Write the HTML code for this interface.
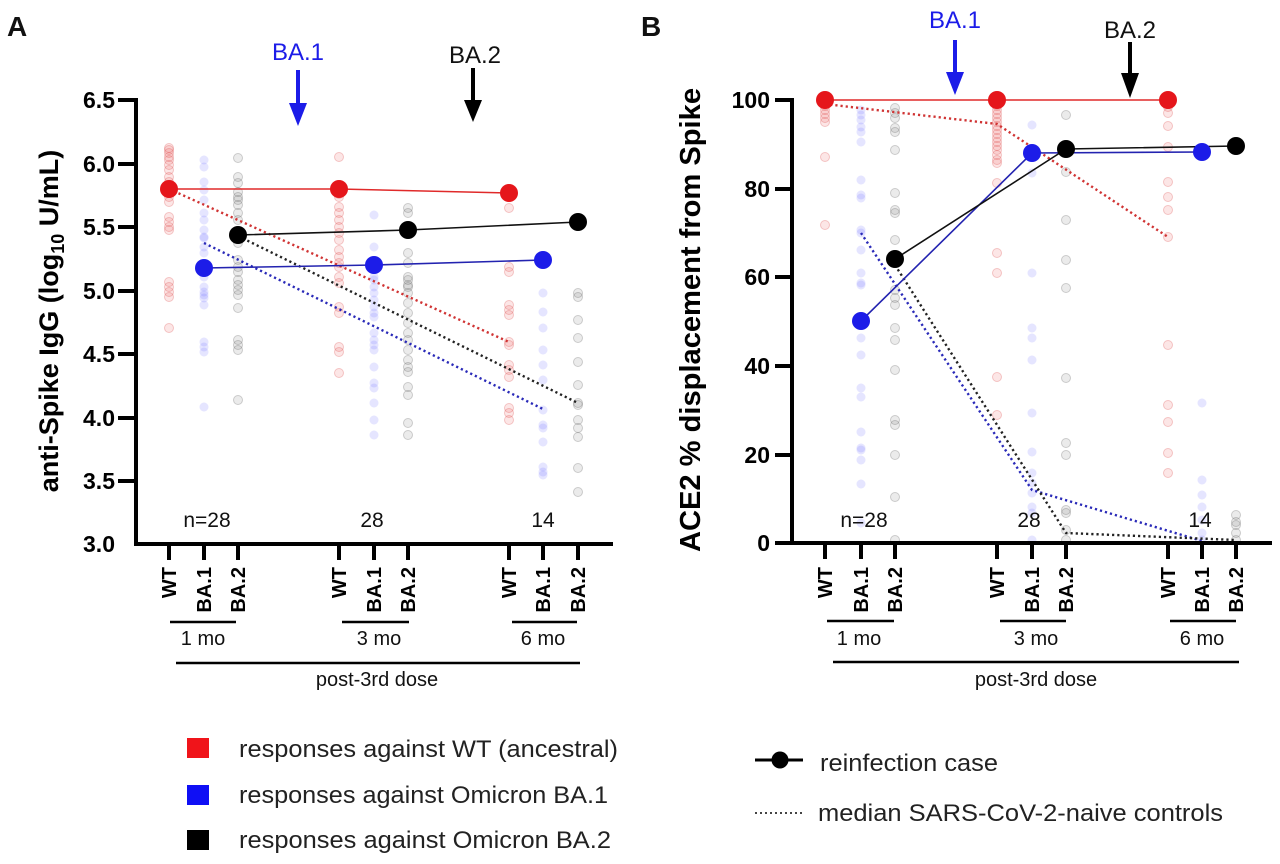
<!DOCTYPE html>
<html><head><meta charset="utf-8"><style>
html,body{margin:0;padding:0;background:#fff;}
svg{display:block;font-family:"Liberation Sans",Arial,sans-serif;}
</style></head><body>
<svg width="1280" height="864" viewBox="0 0 1280 864" xmlns="http://www.w3.org/2000/svg">
<rect width="1280" height="864" fill="#fff"/>
<defs>
<style>
.r{fill:rgba(230,60,60,0.13);stroke:rgba(220,70,70,0.28);stroke-width:1}
.b{fill:rgba(70,70,255,0.14);stroke:none}
.g{fill:rgba(90,90,90,0.12);stroke:rgba(90,90,90,0.28);stroke-width:1}
</style>
</defs>

<!-- Panel letters -->
<text x="7" y="36" font-size="28" font-weight="bold" fill="#111">A</text>
<text x="641" y="36" font-size="28" font-weight="bold" fill="#111">B</text>

<!-- ===== Panel A scatter ===== -->
<g>
<g class="r">
<circle cx="169" cy="148" r="4.5"/><circle cx="169" cy="150" r="4.5"/><circle cx="169" cy="153" r="4.5"/><circle cx="169" cy="157" r="4.5"/><circle cx="169" cy="160" r="4.5"/><circle cx="169" cy="165" r="4.5"/><circle cx="169" cy="170" r="4.5"/><circle cx="169" cy="177" r="4.5"/><circle cx="169" cy="182" r="4.5"/><circle cx="169" cy="187" r="4.5"/><circle cx="169" cy="190" r="4.5"/><circle cx="169" cy="197" r="4.5"/><circle cx="169" cy="202" r="4.5"/><circle cx="169" cy="217" r="4.5"/><circle cx="169" cy="222" r="4.5"/><circle cx="169" cy="227" r="4.5"/><circle cx="169" cy="230" r="4.5"/><circle cx="169" cy="282" r="4.5"/><circle cx="169" cy="287" r="4.5"/><circle cx="169" cy="292" r="4.5"/><circle cx="169" cy="297" r="4.5"/><circle cx="169" cy="328" r="4.5"/>
<circle cx="339" cy="157" r="4.5"/><circle cx="339" cy="188" r="4.5"/><circle cx="339" cy="191" r="4.5"/><circle cx="339" cy="194" r="4.5"/><circle cx="339" cy="197" r="4.5"/><circle cx="339" cy="207" r="4.5"/><circle cx="339" cy="213" r="4.5"/><circle cx="339" cy="220" r="4.5"/><circle cx="339" cy="227" r="4.5"/><circle cx="339" cy="233" r="4.5"/><circle cx="339" cy="240" r="4.5"/><circle cx="339" cy="250" r="4.5"/><circle cx="339" cy="257" r="4.5"/><circle cx="339" cy="263" r="4.5"/><circle cx="339" cy="267" r="4.5"/><circle cx="339" cy="277" r="4.5"/><circle cx="339" cy="283" r="4.5"/><circle cx="339" cy="307" r="4.5"/><circle cx="339" cy="313" r="4.5"/><circle cx="339" cy="347" r="4.5"/><circle cx="339" cy="352" r="4.5"/><circle cx="339" cy="373" r="4.5"/>
<circle cx="509" cy="208" r="4.5"/><circle cx="509" cy="267" r="4.5"/><circle cx="509" cy="272" r="4.5"/><circle cx="509" cy="305" r="4.5"/><circle cx="509" cy="310" r="4.5"/><circle cx="509" cy="315" r="4.5"/><circle cx="509" cy="342" r="4.5"/><circle cx="509" cy="345" r="4.5"/><circle cx="509" cy="365" r="4.5"/><circle cx="509" cy="370" r="4.5"/><circle cx="509" cy="377" r="4.5"/><circle cx="509" cy="408" r="4.5"/><circle cx="509" cy="413" r="4.5"/><circle cx="509" cy="420" r="4.5"/>
</g>
<g class="b">
<circle cx="204" cy="160" r="4.5"/><circle cx="204" cy="167" r="4.5"/><circle cx="204" cy="182" r="4.5"/><circle cx="204" cy="190" r="4.5"/><circle cx="204" cy="200" r="4.5"/><circle cx="204" cy="213" r="4.5"/><circle cx="204" cy="220" r="4.5"/><circle cx="204" cy="230" r="4.5"/><circle cx="204" cy="237" r="4.5"/><circle cx="204" cy="238" r="4.5"/><circle cx="204" cy="247" r="4.5"/><circle cx="204" cy="253" r="4.5"/><circle cx="204" cy="267" r="4.5"/><circle cx="204" cy="277" r="4.5"/><circle cx="204" cy="287" r="4.5"/><circle cx="204" cy="292" r="4.5"/><circle cx="204" cy="295" r="4.5"/><circle cx="204" cy="298" r="4.5"/><circle cx="204" cy="305" r="4.5"/><circle cx="204" cy="342" r="4.5"/><circle cx="204" cy="347" r="4.5"/><circle cx="204" cy="352" r="4.5"/><circle cx="204" cy="407" r="4.5"/>
<circle cx="374" cy="215" r="4.5"/><circle cx="374" cy="247" r="4.5"/><circle cx="374" cy="267" r="4.5"/><circle cx="374" cy="277" r="4.5"/><circle cx="374" cy="280" r="4.5"/><circle cx="374" cy="287" r="4.5"/><circle cx="374" cy="293" r="4.5"/><circle cx="374" cy="300" r="4.5"/><circle cx="374" cy="307" r="4.5"/><circle cx="374" cy="313" r="4.5"/><circle cx="374" cy="317" r="4.5"/><circle cx="374" cy="333" r="4.5"/><circle cx="374" cy="340" r="4.5"/><circle cx="374" cy="345" r="4.5"/><circle cx="374" cy="350" r="4.5"/><circle cx="374" cy="367" r="4.5"/><circle cx="374" cy="383" r="4.5"/><circle cx="374" cy="388" r="4.5"/><circle cx="374" cy="403" r="4.5"/><circle cx="374" cy="420" r="4.5"/><circle cx="374" cy="435" r="4.5"/>
<circle cx="543" cy="293" r="4.5"/><circle cx="543" cy="312" r="4.5"/><circle cx="543" cy="328" r="4.5"/><circle cx="543" cy="350" r="4.5"/><circle cx="543" cy="365" r="4.5"/><circle cx="543" cy="380" r="4.5"/><circle cx="543" cy="410" r="4.5"/><circle cx="543" cy="425" r="4.5"/><circle cx="543" cy="428" r="4.5"/><circle cx="543" cy="442" r="4.5"/><circle cx="543" cy="467" r="4.5"/><circle cx="543" cy="472" r="4.5"/><circle cx="543" cy="475" r="4.5"/>
</g>
<g class="g">
<circle cx="238" cy="158" r="4.5"/><circle cx="238" cy="177" r="4.5"/><circle cx="238" cy="183" r="4.5"/><circle cx="238" cy="192" r="4.5"/><circle cx="238" cy="197" r="4.5"/><circle cx="238" cy="200" r="4.5"/><circle cx="238" cy="205" r="4.5"/><circle cx="238" cy="213" r="4.5"/><circle cx="238" cy="220" r="4.5"/><circle cx="238" cy="243" r="4.5"/><circle cx="238" cy="260" r="4.5"/><circle cx="238" cy="267" r="4.5"/><circle cx="238" cy="272" r="4.5"/><circle cx="238" cy="280" r="4.5"/><circle cx="238" cy="285" r="4.5"/><circle cx="238" cy="290" r="4.5"/><circle cx="238" cy="295" r="4.5"/><circle cx="238" cy="308" r="4.5"/><circle cx="238" cy="340" r="4.5"/><circle cx="238" cy="345" r="4.5"/><circle cx="238" cy="350" r="4.5"/><circle cx="238" cy="400" r="4.5"/>
<circle cx="408" cy="208" r="4.5"/><circle cx="408" cy="213" r="4.5"/><circle cx="408" cy="233" r="4.5"/><circle cx="408" cy="253" r="4.5"/><circle cx="408" cy="263" r="4.5"/><circle cx="408" cy="277" r="4.5"/><circle cx="408" cy="280" r="4.5"/><circle cx="408" cy="285" r="4.5"/><circle cx="408" cy="287" r="4.5"/><circle cx="408" cy="293" r="4.5"/><circle cx="408" cy="303" r="4.5"/><circle cx="408" cy="313" r="4.5"/><circle cx="408" cy="323" r="4.5"/><circle cx="408" cy="333" r="4.5"/><circle cx="408" cy="340" r="4.5"/><circle cx="408" cy="350" r="4.5"/><circle cx="408" cy="360" r="4.5"/><circle cx="408" cy="367" r="4.5"/><circle cx="408" cy="372" r="4.5"/><circle cx="408" cy="387" r="4.5"/><circle cx="408" cy="395" r="4.5"/><circle cx="408" cy="423" r="4.5"/><circle cx="408" cy="435" r="4.5"/>
<circle cx="578" cy="293" r="4.5"/><circle cx="578" cy="297" r="4.5"/><circle cx="578" cy="320" r="4.5"/><circle cx="578" cy="338" r="4.5"/><circle cx="578" cy="362" r="4.5"/><circle cx="578" cy="385" r="4.5"/><circle cx="578" cy="403" r="4.5"/><circle cx="578" cy="405" r="4.5"/><circle cx="578" cy="420" r="4.5"/><circle cx="578" cy="428" r="4.5"/><circle cx="578" cy="437" r="4.5"/><circle cx="578" cy="468" r="4.5"/><circle cx="578" cy="492" r="4.5"/>
</g>
</g>

<!-- Panel A dotted medians -->
<g fill="none" stroke-width="2.4" stroke-dasharray="2.2,3">
<line x1="169" y1="189" x2="509" y2="342" stroke="#d03434"/>
<line x1="204" y1="243" x2="543" y2="409" stroke="#2a2ab8"/>
<line x1="238" y1="236" x2="578" y2="403" stroke="#222"/>
</g>
<!-- Panel A solid lines -->
<g fill="none" stroke-width="1.6">
<polyline points="169,189 339,189 509,193" stroke="#e02a2a"/>
<polyline points="204,268 374,265 543,260" stroke="#2323b0"/>
<polyline points="238,235 408,230 578,222" stroke="#111"/>
</g>
<!-- Panel A markers -->
<g>
<circle cx="169" cy="189" r="9" fill="#e5161b"/><circle cx="339" cy="189" r="9" fill="#e5161b"/><circle cx="509" cy="193" r="9" fill="#e5161b"/>
<circle cx="204" cy="268" r="9" fill="#1c1ce8"/><circle cx="374" cy="265" r="9" fill="#1c1ce8"/><circle cx="543" cy="260" r="9" fill="#1c1ce8"/>
<circle cx="238" cy="235" r="9" fill="#000"/><circle cx="408" cy="230" r="9" fill="#000"/><circle cx="578" cy="222" r="9" fill="#000"/>
</g>

<!-- Panel A axes -->
<g stroke="#000" stroke-width="4" fill="none">
<line x1="136" y1="98" x2="136" y2="546"/>
<line x1="134" y1="544" x2="613" y2="544"/>
<line x1="118" y1="100" x2="136" y2="100"/>
<line x1="118" y1="164" x2="136" y2="164"/>
<line x1="118" y1="227" x2="136" y2="227"/>
<line x1="118" y1="291" x2="136" y2="291"/>
<line x1="118" y1="354" x2="136" y2="354"/>
<line x1="118" y1="418" x2="136" y2="418"/>
<line x1="118" y1="481" x2="136" y2="481"/>
<line x1="169" y1="544" x2="169" y2="560"/><line x1="204" y1="544" x2="204" y2="560"/><line x1="238" y1="544" x2="238" y2="560"/>
<line x1="339" y1="544" x2="339" y2="560"/><line x1="374" y1="544" x2="374" y2="560"/><line x1="408" y1="544" x2="408" y2="560"/>
<line x1="509" y1="544" x2="509" y2="560"/><line x1="543" y1="544" x2="543" y2="560"/><line x1="578" y1="544" x2="578" y2="560"/>
</g>
<g font-size="23" font-weight="bold" text-anchor="end" fill="#000">
<text x="115" y="108">6.5</text>
<text x="115" y="172">6.0</text>
<text x="115" y="235">5.5</text>
<text x="115" y="299">5.0</text>
<text x="115" y="362">4.5</text>
<text x="115" y="426">4.0</text>
<text x="115" y="489">3.5</text>
<text x="115" y="552">3.0</text>
</g>
<text transform="translate(58,321) rotate(-90)" text-anchor="middle" font-size="27" font-weight="bold" fill="#000">anti-Spike IgG (log<tspan font-size="18" dy="6">10</tspan><tspan dy="-6"> U/mL)</tspan></text>

<!-- A x tick labels -->
<g font-size="20" font-weight="bold" text-anchor="end" fill="#000">
<text transform="translate(176,567) rotate(-90)">WT</text>
<text transform="translate(211,567) rotate(-90)">BA.1</text>
<text transform="translate(245,567) rotate(-90)">BA.2</text>
<text transform="translate(346,567) rotate(-90)">WT</text>
<text transform="translate(381,567) rotate(-90)">BA.1</text>
<text transform="translate(415,567) rotate(-90)">BA.2</text>
<text transform="translate(516,567) rotate(-90)">WT</text>
<text transform="translate(550,567) rotate(-90)">BA.1</text>
<text transform="translate(585,567) rotate(-90)">BA.2</text>
</g>
<g stroke="#000" stroke-width="2.5">
<line x1="170" y1="622" x2="236" y2="622"/>
<line x1="342" y1="622" x2="409" y2="622"/>
<line x1="512" y1="622" x2="577" y2="622"/>
<line x1="176" y1="663" x2="580" y2="663"/>
</g>
<g font-size="20" text-anchor="middle" fill="#111">
<text x="203" y="645">1 mo</text>
<text x="379" y="645">3 mo</text>
<text x="543" y="645">6 mo</text>
<text x="377" y="686">post-3rd dose</text>
</g>
<g font-size="21" text-anchor="middle" fill="#111">
<text x="207" y="527">n=28</text>
<text x="372" y="527">28</text>
<text x="543" y="527">14</text>
</g>

<!-- A arrows -->
<text x="298" y="60" font-size="24" text-anchor="middle" fill="#1c1ce8">BA.1</text>
<line x1="298" y1="70" x2="298" y2="106" stroke="#1c1ce8" stroke-width="4"/>
<polygon points="289,103 307,103 298,126" fill="#1c1ce8"/>
<text x="475" y="63" font-size="24" text-anchor="middle" fill="#111">BA.2</text>
<line x1="473" y1="68" x2="473" y2="102" stroke="#000" stroke-width="4"/>
<polygon points="464,100 482,100 473,122" fill="#000"/>

<!-- ===== Panel B scatter ===== -->
<g>
<g class="r">
<circle cx="825" cy="103" r="4.5"/><circle cx="825" cy="106" r="4.5"/><circle cx="825" cy="110" r="4.5"/><circle cx="825" cy="114" r="4.5"/><circle cx="825" cy="118" r="4.5"/><circle cx="825" cy="122" r="4.5"/><circle cx="825" cy="157" r="4.5"/><circle cx="825" cy="225" r="4.5"/>
<circle cx="997" cy="106" r="4.5"/><circle cx="997" cy="110" r="4.5"/><circle cx="997" cy="114" r="4.5"/><circle cx="997" cy="118" r="4.5"/><circle cx="997" cy="122" r="4.5"/><circle cx="997" cy="126" r="4.5"/><circle cx="997" cy="130" r="4.5"/><circle cx="997" cy="134" r="4.5"/><circle cx="997" cy="138" r="4.5"/><circle cx="997" cy="142" r="4.5"/><circle cx="997" cy="146" r="4.5"/><circle cx="997" cy="150" r="4.5"/><circle cx="997" cy="155" r="4.5"/><circle cx="997" cy="160" r="4.5"/><circle cx="997" cy="163" r="4.5"/><circle cx="997" cy="183" r="4.5"/><circle cx="997" cy="253" r="4.5"/><circle cx="997" cy="273" r="4.5"/><circle cx="997" cy="377" r="4.5"/><circle cx="997" cy="415" r="4.5"/>
<circle cx="1168" cy="107" r="4.5"/><circle cx="1168" cy="113" r="4.5"/><circle cx="1168" cy="126" r="4.5"/><circle cx="1168" cy="147" r="4.5"/><circle cx="1168" cy="182" r="4.5"/><circle cx="1168" cy="197" r="4.5"/><circle cx="1168" cy="210" r="4.5"/><circle cx="1168" cy="237" r="4.5"/><circle cx="1168" cy="345" r="4.5"/><circle cx="1168" cy="405" r="4.5"/><circle cx="1168" cy="422" r="4.5"/><circle cx="1168" cy="453" r="4.5"/><circle cx="1168" cy="473" r="4.5"/>
</g>
<g class="b">
<circle cx="861" cy="110" r="4.5"/><circle cx="861" cy="115" r="4.5"/><circle cx="861" cy="120" r="4.5"/><circle cx="861" cy="127" r="4.5"/><circle cx="861" cy="132" r="4.5"/><circle cx="861" cy="142" r="4.5"/><circle cx="861" cy="180" r="4.5"/><circle cx="861" cy="195" r="4.5"/><circle cx="861" cy="198" r="4.5"/><circle cx="861" cy="230" r="4.5"/><circle cx="861" cy="233" r="4.5"/><circle cx="861" cy="250" r="4.5"/><circle cx="861" cy="273" r="4.5"/><circle cx="861" cy="283" r="4.5"/><circle cx="861" cy="285" r="4.5"/><circle cx="861" cy="338" r="4.5"/><circle cx="861" cy="355" r="4.5"/><circle cx="861" cy="388" r="4.5"/><circle cx="861" cy="397" r="4.5"/><circle cx="861" cy="432" r="4.5"/><circle cx="861" cy="448" r="4.5"/><circle cx="861" cy="450" r="4.5"/><circle cx="861" cy="460" r="4.5"/><circle cx="861" cy="484" r="4.5"/><circle cx="861" cy="523" r="4.5"/>
<circle cx="1032" cy="125" r="4.5"/><circle cx="1032" cy="173" r="4.5"/><circle cx="1032" cy="273" r="4.5"/><circle cx="1032" cy="328" r="4.5"/><circle cx="1032" cy="338" r="4.5"/><circle cx="1032" cy="360" r="4.5"/><circle cx="1032" cy="413" r="4.5"/><circle cx="1032" cy="452" r="4.5"/><circle cx="1032" cy="473" r="4.5"/><circle cx="1032" cy="483" r="4.5"/><circle cx="1032" cy="493" r="4.5"/><circle cx="1032" cy="507" r="4.5"/><circle cx="1032" cy="513" r="4.5"/><circle cx="1032" cy="540" r="4.5"/>
<circle cx="1202" cy="403" r="4.5"/><circle cx="1202" cy="480" r="4.5"/><circle cx="1202" cy="495" r="4.5"/><circle cx="1202" cy="507" r="4.5"/><circle cx="1202" cy="520" r="4.5"/><circle cx="1202" cy="533" r="4.5"/><circle cx="1202" cy="540" r="4.5"/>
</g>
<g class="g">
<circle cx="895" cy="108" r="4.5"/><circle cx="895" cy="113" r="4.5"/><circle cx="895" cy="118" r="4.5"/><circle cx="895" cy="128" r="4.5"/><circle cx="895" cy="132" r="4.5"/><circle cx="895" cy="150" r="4.5"/><circle cx="895" cy="193" r="4.5"/><circle cx="895" cy="210" r="4.5"/><circle cx="895" cy="213" r="4.5"/><circle cx="895" cy="240" r="4.5"/><circle cx="895" cy="290" r="4.5"/><circle cx="895" cy="298" r="4.5"/><circle cx="895" cy="305" r="4.5"/><circle cx="895" cy="328" r="4.5"/><circle cx="895" cy="340" r="4.5"/><circle cx="895" cy="370" r="4.5"/><circle cx="895" cy="420" r="4.5"/><circle cx="895" cy="425" r="4.5"/><circle cx="895" cy="455" r="4.5"/><circle cx="895" cy="497" r="4.5"/><circle cx="895" cy="540" r="4.5"/>
<circle cx="1066" cy="115" r="4.5"/><circle cx="1066" cy="172" r="4.5"/><circle cx="1066" cy="220" r="4.5"/><circle cx="1066" cy="260" r="4.5"/><circle cx="1066" cy="288" r="4.5"/><circle cx="1066" cy="378" r="4.5"/><circle cx="1066" cy="443" r="4.5"/><circle cx="1066" cy="455" r="4.5"/><circle cx="1066" cy="510" r="4.5"/><circle cx="1066" cy="513" r="4.5"/><circle cx="1066" cy="530" r="4.5"/><circle cx="1066" cy="540" r="4.5"/>
<circle cx="1236" cy="515" r="4.5"/><circle cx="1236" cy="522" r="4.5"/><circle cx="1236" cy="525" r="4.5"/><circle cx="1236" cy="533" r="4.5"/><circle cx="1236" cy="540" r="4.5"/>
</g>
</g>

<!-- Panel B dotted medians -->
<g fill="none" stroke-width="2.4" stroke-dasharray="2.2,3">
<polyline points="825,104 997,124 1168,237" stroke="#d03434"/>
<polyline points="861,233 1032,490 1202,541" stroke="#2a2ab8"/>
<polyline points="895,265 1066,533 1236,540" stroke="#222"/>
</g>
<!-- Panel B solid lines -->
<g fill="none" stroke-width="1.6">
<polyline points="825,100 997,100 1168,100" stroke="#e02a2a"/>
<polyline points="861,321 1032,153 1202,152" stroke="#2323b0"/>
<polyline points="895,259 1066,149 1236,146" stroke="#111"/>
</g>
<g>
<circle cx="825" cy="100" r="9" fill="#e5161b"/><circle cx="997" cy="100" r="9" fill="#e5161b"/><circle cx="1168" cy="100" r="9" fill="#e5161b"/>
<circle cx="861" cy="321" r="9" fill="#1c1ce8"/><circle cx="1032" cy="153" r="9" fill="#1c1ce8"/><circle cx="1202" cy="152" r="9" fill="#1c1ce8"/>
<circle cx="895" cy="259" r="9" fill="#000"/><circle cx="1066" cy="149" r="9" fill="#000"/><circle cx="1236" cy="146" r="9" fill="#000"/>
</g>

<!-- Panel B axes -->
<g stroke="#000" stroke-width="4" fill="none">
<line x1="792" y1="98" x2="792" y2="545"/>
<line x1="790" y1="543" x2="1272" y2="543"/>
<line x1="775" y1="100" x2="792" y2="100"/>
<line x1="775" y1="189" x2="792" y2="189"/>
<line x1="775" y1="277" x2="792" y2="277"/>
<line x1="775" y1="366" x2="792" y2="366"/>
<line x1="775" y1="455" x2="792" y2="455"/>
<line x1="775" y1="543" x2="792" y2="543"/>
<line x1="825" y1="543" x2="825" y2="559"/><line x1="861" y1="543" x2="861" y2="559"/><line x1="895" y1="543" x2="895" y2="559"/>
<line x1="997" y1="543" x2="997" y2="559"/><line x1="1032" y1="543" x2="1032" y2="559"/><line x1="1066" y1="543" x2="1066" y2="559"/>
<line x1="1168" y1="543" x2="1168" y2="559"/><line x1="1202" y1="543" x2="1202" y2="559"/><line x1="1236" y1="543" x2="1236" y2="559"/>
</g>
<g font-size="23" font-weight="bold" text-anchor="end" fill="#000">
<text x="770" y="108">100</text>
<text x="770" y="197">80</text>
<text x="770" y="285">60</text>
<text x="770" y="374">40</text>
<text x="770" y="463">20</text>
<text x="770" y="551">0</text>
</g>
<text transform="translate(700,320) rotate(-90)" text-anchor="middle" font-size="29" font-weight="bold" fill="#000" textLength="464" lengthAdjust="spacingAndGlyphs">ACE2 % displacement from Spike</text>

<g font-size="20" font-weight="bold" text-anchor="end" fill="#000">
<text transform="translate(832,567) rotate(-90)">WT</text>
<text transform="translate(868,567) rotate(-90)">BA.1</text>
<text transform="translate(902,567) rotate(-90)">BA.2</text>
<text transform="translate(1004,567) rotate(-90)">WT</text>
<text transform="translate(1039,567) rotate(-90)">BA.1</text>
<text transform="translate(1073,567) rotate(-90)">BA.2</text>
<text transform="translate(1175,567) rotate(-90)">WT</text>
<text transform="translate(1209,567) rotate(-90)">BA.1</text>
<text transform="translate(1243,567) rotate(-90)">BA.2</text>
</g>
<g stroke="#000" stroke-width="2.5">
<line x1="827" y1="621" x2="894" y2="621"/>
<line x1="1000" y1="621" x2="1066" y2="621"/>
<line x1="1170" y1="621" x2="1236" y2="621"/>
<line x1="833" y1="662" x2="1239" y2="662"/>
</g>
<g font-size="20" text-anchor="middle" fill="#111">
<text x="859" y="645">1 mo</text>
<text x="1036" y="645">3 mo</text>
<text x="1202" y="645">6 mo</text>
<text x="1036" y="686">post-3rd dose</text>
</g>
<g font-size="21" text-anchor="middle" fill="#111">
<text x="864" y="527">n=28</text>
<text x="1029" y="527">28</text>
<text x="1200" y="527">14</text>
</g>

<!-- B arrows -->
<text x="955" y="28" font-size="24" text-anchor="middle" fill="#1c1ce8">BA.1</text>
<line x1="955" y1="40" x2="955" y2="76" stroke="#1c1ce8" stroke-width="4"/>
<polygon points="946,72 964,72 955,95" fill="#1c1ce8"/>
<text x="1130" y="38" font-size="24" text-anchor="middle" fill="#111">BA.2</text>
<line x1="1130" y1="42" x2="1130" y2="76" stroke="#000" stroke-width="4"/>
<polygon points="1121,73 1139,73 1130,98" fill="#000"/>

<!-- Legend 1 -->
<rect x="187" y="738" width="22" height="20" fill="#f0141a"/>
<rect x="187" y="785" width="22" height="20" fill="#0f0ff5"/>
<rect x="187" y="830" width="22" height="20" fill="#000"/>
<g font-size="24" fill="#222">
<text x="239" y="757" textLength="379" lengthAdjust="spacingAndGlyphs">responses against WT (ancestral)</text>
<text x="239" y="803" textLength="369" lengthAdjust="spacingAndGlyphs">responses against Omicron BA.1</text>
<text x="239" y="848" textLength="372" lengthAdjust="spacingAndGlyphs">responses against Omicron BA.2</text>
</g>

<!-- Legend 2 -->
<line x1="755" y1="760" x2="803" y2="760" stroke="#000" stroke-width="3"/>
<circle cx="780" cy="760" r="8.5" fill="#000"/>
<line x1="755" y1="813" x2="803" y2="813" stroke="#444" stroke-width="2" stroke-dasharray="2,3"/>
<g font-size="24" fill="#222">
<text x="820" y="771" textLength="178" lengthAdjust="spacingAndGlyphs">reinfection case</text>
<text x="818" y="821" textLength="405" lengthAdjust="spacingAndGlyphs">median SARS-CoV-2-naive controls</text>
</g>
</svg>
</body></html>
